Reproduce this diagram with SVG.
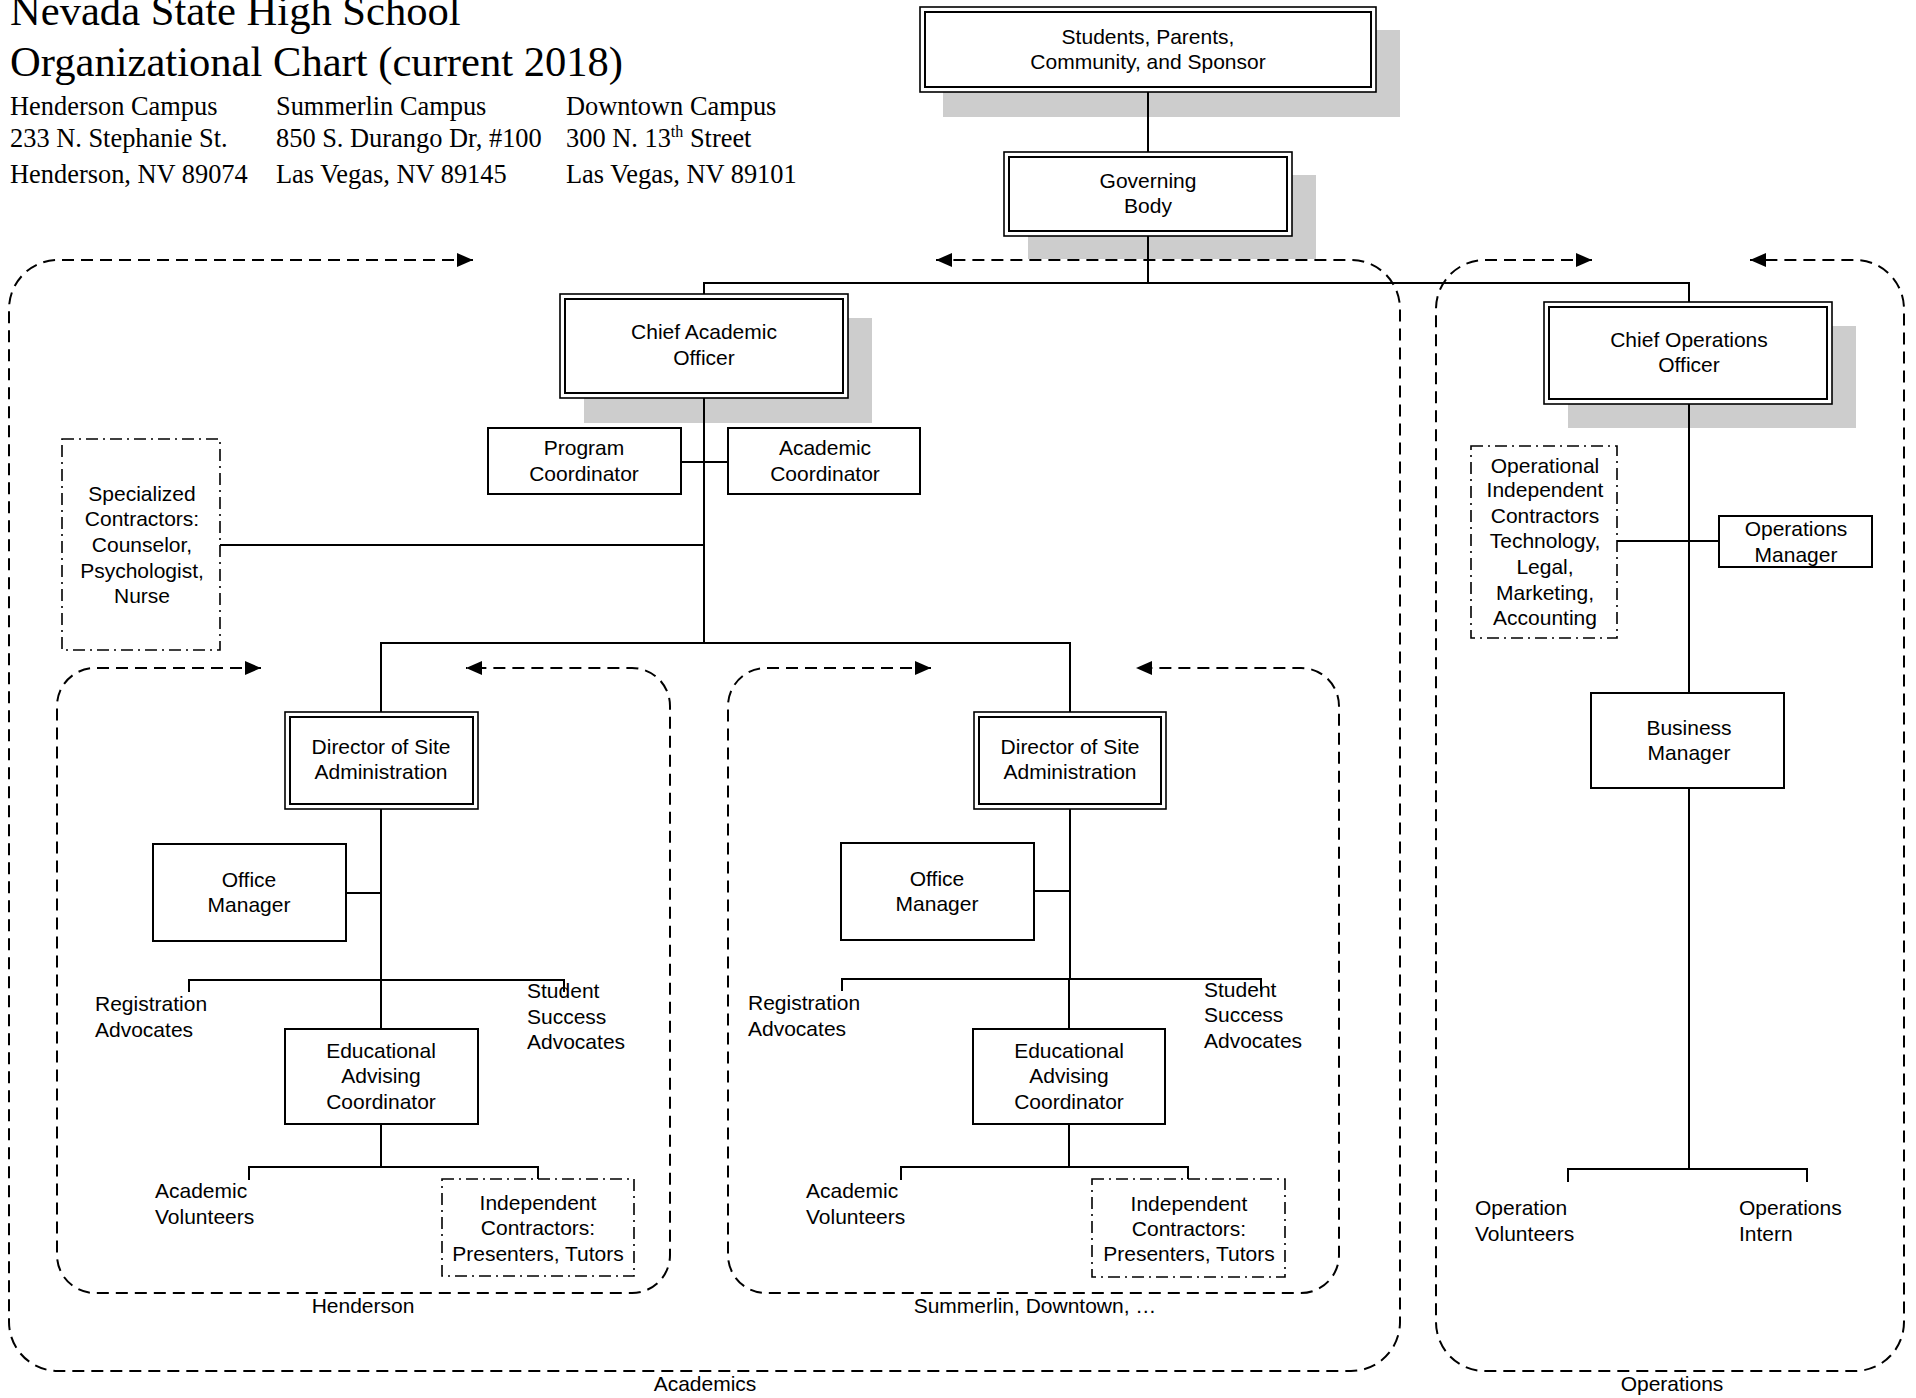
<svg xmlns="http://www.w3.org/2000/svg" width="1916" height="1398" viewBox="0 0 1916 1398">
<style>
.t{font-family:"Liberation Sans",Arial,sans-serif;font-size:21px;fill:#000}
.c{text-anchor:middle}
.s{font-family:"Liberation Serif","Times New Roman",serif;fill:#000}
.box{fill:#fff;stroke:#000;stroke-width:2}
.out{fill:#fff;stroke:#000;stroke-width:1.6}
.in{fill:none;stroke:#000;stroke-width:2}
.sh{fill:#cdcdcd}
.dd{fill:#fff;stroke:#000;stroke-width:1.6;stroke-dasharray:12 5 2 5}
.grp{fill:none;stroke:#000;stroke-width:2;stroke-dasharray:12 7}
.ln{fill:none;stroke:#000;stroke-width:2}
</style>
<defs>
<marker id="arr" viewBox="0 0 16 14" refX="16" refY="7" markerWidth="16" markerHeight="14" markerUnits="userSpaceOnUse" orient="auto-start-reverse"><path d="M0 0 L16 7 L0 14 z" fill="#000"/></marker>
</defs>
<rect width="1916" height="1398" fill="#fff"/>

<g id="header">
<text class="s" x="10" y="25" font-size="42.6">Nevada State High School</text>
<text class="s" x="10" y="76" font-size="42.6">Organizational Chart (current 2018)</text>
<text class="s" x="10" y="115" font-size="26.4">Henderson Campus</text>
<text class="s" x="10" y="147" font-size="26.4">233 N. Stephanie St.</text>
<text class="s" x="10" y="183" font-size="26.4">Henderson, NV 89074</text>
<text class="s" x="276" y="115" font-size="26.4">Summerlin Campus</text>
<text class="s" x="276" y="147" font-size="26.4">850 S. Durango Dr, #100</text>
<text class="s" x="276" y="183" font-size="26.4">Las Vegas, NV 89145</text>
<text class="s" x="566" y="115" font-size="26.4">Downtown Campus</text>
<text class="s" x="566" y="147" font-size="26.4">300 N. 13<tspan font-size="16" dy="-10">th</tspan><tspan dy="10"> Street</tspan></text>
<text class="s" x="566" y="183" font-size="26.4">Las Vegas, NV 89101</text>
</g>

<g id="shadows">
<rect class="sh" x="943" y="30" width="457" height="87"/>
<rect class="sh" x="1028" y="175" width="288" height="84"/>
<rect class="sh" x="584" y="318" width="288" height="105"/>
<rect class="sh" x="1568" y="326" width="288" height="102"/>
</g>

<g id="groups">
<g id="academics-group">
<path class="grp" marker-start="url(#arr)" marker-end="url(#arr)" d="M473 260 H58 A49 49 0 0 0 9 309 V1322 A49 49 0 0 0 58 1371 H1351 A49 49 0 0 0 1400 1322 V309 A49 49 0 0 0 1351 260 H936"/>
<text class="t c" x="705" y="1391">Academics</text>
</g>
<g id="operations-group">
<path class="grp" marker-start="url(#arr)" marker-end="url(#arr)" d="M1592 260 H1485 A49 49 0 0 0 1436 309 V1322 A49 49 0 0 0 1485 1371 H1855 A49 49 0 0 0 1904 1322 V309 A49 49 0 0 0 1855 260 H1750"/>
<text class="t c" x="1672" y="1391">Operations</text>
</g>
<g id="henderson-group">
<path class="grp" marker-start="url(#arr)" marker-end="url(#arr)" d="M261 668 H95 A38 38 0 0 0 57 706 V1255 A38 38 0 0 0 95 1293 H632 A38 38 0 0 0 670 1255 V706 A38 38 0 0 0 632 668 H466"/>
<text class="t c" x="363" y="1313">Henderson</text>
</g>
<g id="summerlin-group">
<path class="grp" marker-start="url(#arr)" marker-end="url(#arr)" d="M931 668 H766 A38 38 0 0 0 728 706 V1255 A38 38 0 0 0 766 1293 H1301 A38 38 0 0 0 1339 1255 V706 A38 38 0 0 0 1301 668 H1136"/>
<text class="t c" x="1035" y="1313">Summerlin, Downtown, …</text>
</g>
</g>

<g id="connectors">
<path class="ln" d="M1148 92 V152"/>
<path class="ln" d="M1148 236 V283"/>
<path class="ln" d="M704 294 V283 H1689 V302"/>
<path class="ln" d="M704 398 V643"/>
<path class="ln" d="M681 462 H728"/>
<path class="ln" d="M220 545 H704"/>
<path class="ln" d="M381 712 V643 H1070 V712"/>
<path class="ln" d="M381 809 V1029"/>
<path class="ln" d="M346 893 H381"/>
<path class="ln" d="M189 992 V980 H564 V992"/>
<path class="ln" d="M381 1124 V1167"/>
<path class="ln" d="M249 1180 V1167 H538 V1179"/>
<path class="ln" d="M1070 809 V979 M1069 979 V1029"/>
<path class="ln" d="M1034 891 H1070"/>
<path class="ln" d="M842 991 V979 H1261 V991"/>
<path class="ln" d="M1069 1124 V1167"/>
<path class="ln" d="M901 1180 V1167 H1188 V1179"/>
<path class="ln" d="M1689 404 V693"/>
<path class="ln" d="M1617 541 H1719"/>
<path class="ln" d="M1689 788 V1169"/>
<path class="ln" d="M1568 1182 V1169 H1807 V1182"/>
</g>

<g id="students">
<rect class="out" x="920" y="7" width="456" height="85"/>
<rect class="in" x="925" y="12" width="446" height="75"/>
<text class="t c" x="1148" y="44">Students, Parents,</text>
<text class="t c" x="1148" y="69">Community, and Sponsor</text>
</g>
<g id="governing-body">
<rect class="out" x="1004" y="152" width="288" height="84"/>
<rect class="in" x="1009" y="157" width="278" height="74"/>
<text class="t c" x="1148" y="188">Governing</text>
<text class="t c" x="1148" y="213">Body</text>
</g>
<g id="chief-academic-officer">
<rect class="out" x="560" y="294" width="288" height="104"/>
<rect class="in" x="565" y="299" width="278" height="94"/>
<text class="t c" x="704" y="339">Chief Academic</text>
<text class="t c" x="704" y="365">Officer</text>
</g>
<g id="chief-operations-officer">
<rect class="out" x="1544" y="302" width="288" height="102"/>
<rect class="in" x="1549" y="307" width="278" height="92"/>
<text class="t c" x="1689" y="347">Chief Operations</text>
<text class="t c" x="1689" y="372">Officer</text>
</g>
<g id="program-coordinator">
<rect class="box" x="488" y="428" width="193" height="66"/>
<text class="t c" x="584" y="455">Program</text>
<text class="t c" x="584" y="481">Coordinator</text>
</g>
<g id="academic-coordinator">
<rect class="box" x="728" y="428" width="192" height="66"/>
<text class="t c" x="825" y="455">Academic</text>
<text class="t c" x="825" y="481">Coordinator</text>
</g>
<g id="specialized-contractors">
<rect class="dd" x="62" y="439" width="158" height="211"/>
<text class="t c" x="142" y="501">Specialized</text>
<text class="t c" x="142" y="526">Contractors:</text>
<text class="t c" x="142" y="552">Counselor,</text>
<text class="t c" x="142" y="578">Psychologist,</text>
<text class="t c" x="142" y="603">Nurse</text>
</g>

<g id="director-henderson">
<rect class="out" x="285" y="712" width="193" height="97"/>
<rect class="in" x="290" y="717" width="183" height="87"/>
<text class="t c" x="381" y="754">Director of Site</text>
<text class="t c" x="381" y="779">Administration</text>
</g>
<g id="office-manager-henderson">
<rect class="box" x="153" y="844" width="193" height="97"/>
<text class="t c" x="249" y="887">Office</text>
<text class="t c" x="249" y="912">Manager</text>
</g>
<g id="registration-henderson">
<text class="t" x="95" y="1011">Registration</text>
<text class="t" x="95" y="1037">Advocates</text>
</g>
<g id="student-success-henderson">
<text class="t" x="527" y="998">Student</text>
<text class="t" x="527" y="1024">Success</text>
<text class="t" x="527" y="1049">Advocates</text>
</g>
<g id="eac-henderson">
<rect class="box" x="285" y="1029" width="193" height="95"/>
<text class="t c" x="381" y="1058">Educational</text>
<text class="t c" x="381" y="1083">Advising</text>
<text class="t c" x="381" y="1109">Coordinator</text>
</g>
<g id="academic-volunteers-henderson">
<text class="t" x="155" y="1198">Academic</text>
<text class="t" x="155" y="1224">Volunteers</text>
</g>
<g id="ic-henderson">
<rect class="dd" x="442" y="1179" width="192" height="97"/>
<text class="t c" x="538" y="1210">Independent</text>
<text class="t c" x="538" y="1235">Contractors:</text>
<text class="t c" x="538" y="1261">Presenters, Tutors</text>
</g>

<g id="director-summerlin">
<rect class="out" x="974" y="712" width="192" height="97"/>
<rect class="in" x="979" y="717" width="182" height="87"/>
<text class="t c" x="1070" y="754">Director of Site</text>
<text class="t c" x="1070" y="779">Administration</text>
</g>
<g id="office-manager-summerlin">
<rect class="box" x="841" y="843" width="193" height="97"/>
<text class="t c" x="937" y="886">Office</text>
<text class="t c" x="937" y="911">Manager</text>
</g>
<g id="registration-summerlin">
<text class="t" x="748" y="1010">Registration</text>
<text class="t" x="748" y="1036">Advocates</text>
</g>
<g id="student-success-summerlin">
<text class="t" x="1204" y="997">Student</text>
<text class="t" x="1204" y="1022">Success</text>
<text class="t" x="1204" y="1048">Advocates</text>
</g>
<g id="eac-summerlin">
<rect class="box" x="973" y="1029" width="192" height="95"/>
<text class="t c" x="1069" y="1058">Educational</text>
<text class="t c" x="1069" y="1083">Advising</text>
<text class="t c" x="1069" y="1109">Coordinator</text>
</g>
<g id="academic-volunteers-summerlin">
<text class="t" x="806" y="1198">Academic</text>
<text class="t" x="806" y="1224">Volunteers</text>
</g>
<g id="ic-summerlin">
<rect class="dd" x="1092" y="1179" width="193" height="98"/>
<text class="t c" x="1189" y="1211">Independent</text>
<text class="t c" x="1189" y="1236">Contractors:</text>
<text class="t c" x="1189" y="1261">Presenters, Tutors</text>
</g>

<g id="operational-contractors">
<rect class="dd" x="1471" y="446" width="146" height="192"/>
<text class="t c" x="1545" y="473">Operational</text>
<text class="t c" x="1545" y="497">Independent</text>
<text class="t c" x="1545" y="523">Contractors</text>
<text class="t c" x="1545" y="548">Technology,</text>
<text class="t c" x="1545" y="574">Legal,</text>
<text class="t c" x="1545" y="600">Marketing,</text>
<text class="t c" x="1545" y="625">Accounting</text>
</g>
<g id="operations-manager">
<rect class="box" x="1719" y="516" width="153" height="51"/>
<text class="t c" x="1796" y="536">Operations</text>
<text class="t c" x="1796" y="562">Manager</text>
</g>
<g id="business-manager">
<rect class="box" x="1591" y="693" width="193" height="95"/>
<text class="t c" x="1689" y="735">Business</text>
<text class="t c" x="1689" y="760">Manager</text>
</g>
<g id="operation-volunteers">
<text class="t" x="1475" y="1215">Operation</text>
<text class="t" x="1475" y="1241">Volunteers</text>
</g>
<g id="operations-intern">
<text class="t" x="1739" y="1215">Operations</text>
<text class="t" x="1739" y="1241">Intern</text>
</g>
</svg>
